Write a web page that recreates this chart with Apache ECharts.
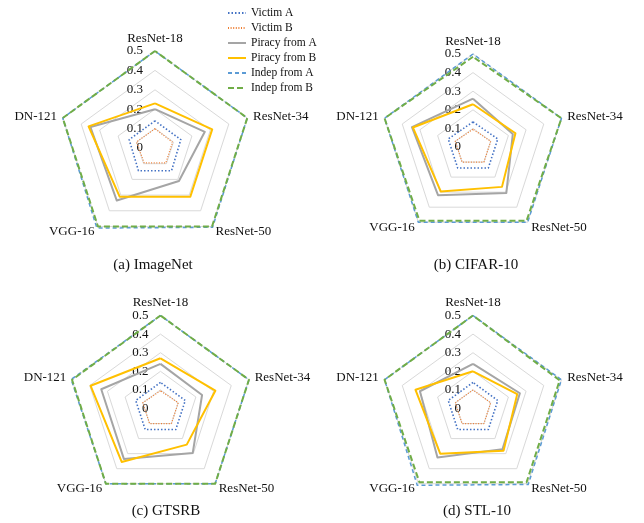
<!DOCTYPE html>
<html>
<head>
<meta charset="utf-8">
<script src="https://cdn.jsdelivr.net/npm/echarts@6/dist/echarts.min.js"></script>
<style>
    html, body { margin: 0; padding: 0; background: #fff; }
    #chart { width: 644px; height: 523px; }
</style>
</head>
<body>
<div id="chart"></div>
<script>
// 模型顺序（顺时针，从顶部开始）
const models = ['ResNet-18', 'ResNet-34', 'ResNet-50', 'VGG-16', 'DN-121'];
const datasets = ['(a) ImageNet', '(b) CIFAR-10', '(c) GTSRB', '(d) STL-10'];
const seriesNames = ['Victim A', 'Victim B', 'Piracy from A', 'Piracy from B', 'Indep from A', 'Indep from B'];
const tickLabels = ['0', '0.1', '0.2', '0.3', '0.4', '0.5'];

// 每行对应一个数据集，列顺序与 models 相同
const victimA = [
    [0.14, 0.14, 0.145, 0.145, 0.14],
    [0.135, 0.14, 0.14, 0.14, 0.14],
    [0.14, 0.14, 0.14, 0.14, 0.14],
    [0.14, 0.14, 0.14, 0.14, 0.14]
];
const victimB = [
    [0.1, 0.095, 0.095, 0.095, 0.1],
    [0.095, 0.1, 0.1, 0.1, 0.1],
    [0.095, 0.1, 0.1, 0.1, 0.1],
    [0.1, 0.1, 0.1, 0.1, 0.1]
];
const piracyA = [
    [0.2, 0.27, 0.21, 0.335, 0.35],
    [0.26, 0.225, 0.305, 0.32, 0.345],
    [0.24, 0.235, 0.295, 0.335, 0.335],
    [0.24, 0.265, 0.27, 0.325, 0.3]
];
const piracyB = [
    [0.23, 0.31, 0.31, 0.31, 0.36],
    [0.23, 0.24, 0.265, 0.295, 0.34],
    [0.27, 0.31, 0.24, 0.355, 0.395],
    [0.2, 0.25, 0.28, 0.3, 0.325]
];
const indepA = [
    [0.5, 0.5, 0.505, 0.51, 0.5],
    [0.5, 0.5, 0.5, 0.5, 0.5],
    [0.5, 0.5, 0.5, 0.5, 0.505],
    [0.5, 0.5, 0.505, 0.51, 0.5]
];
const indepB = [
    [0.5, 0.5, 0.5, 0.5, 0.5],
    [0.485, 0.5, 0.49, 0.49, 0.5],
    [0.5, 0.5, 0.5, 0.5, 0.5],
    [0.5, 0.49, 0.49, 0.49, 0.5]
];

const allValues = [victimA, victimB, piracyA, piracyB, indepA, indepB];

const lineStyles = [
    { color: '#4472C4', width: 1.6, type: [1.5, 2] },
    { color: '#ED7D31', width: 1.2, type: [1, 1.6] },
    { color: '#A5A5A5', width: 2, type: 'solid' },
    { color: '#FFC000', width: 2, type: 'solid' },
    { color: '#5B9BD5', width: 1.5, type: [4, 3] },
    { color: '#70AD47', width: 2, type: [6, 3] }
];

const layout = [
    { center: [155, 148], radius: 97, title: [148, 262] },
    { center: [473, 147], radius: 93, title: [471, 262] },
    { center: [160.5, 408.5], radius: 93, title: [161, 508] },
    { center: [473, 408.5], radius: 93, title: [472, 508] }
];

const font = 'Liberation Serif';

// ECharts 雷达图按逆时针排列，这里调整顺序以保持顺时针
const order = [0, 4, 3, 2, 1];

function buildOption() {
    const radars = layout.map(function(l) {
        return {
            center: l.center,
            radius: l.radius,
            startAngle: 90,
            splitNumber: 5,
            shape: 'polygon',
            nameGap: 6,
            axisName: { color: '#111', fontFamily: font, fontSize: 13 },
            indicator: order.map(function(k, i) {
                const ind = { name: models[k], min: 0, max: 0.5 };
                if (i === 0) {
                    ind.axisLabel = {
                        show: true,
                        color: '#111',
                        fontFamily: font,
                        fontSize: 13,
                        margin: 12,
                        formatter: function(v) { return tickLabels[Math.round(v * 10)]; }
                    };
                }
                return ind;
            }),
            axisLine: { show: false },
            axisTick: { show: false },
            axisLabel: { show: false },
            splitLine: { lineStyle: { color: '#D9D9D9', width: 1 } },
            splitArea: { show: false }
        };
    });

    // 图例用的空折线系列（只为显示线型图标）
    const series = seriesNames.map(function(name, s) {
        return {
            name: name,
            type: 'line',
            xAxisIndex: 0,
            yAxisIndex: 0,
            symbol: 'none',
            data: [],
            lineStyle: lineStyles[s],
            itemStyle: { color: lineStyles[s].color }
        };
    });

    layout.forEach(function(l, d) {
        series.push({
            type: 'radar',
            radarIndex: d,
            symbol: 'none',
            silent: true,
            data: seriesNames.map(function(name, s) {
                return {
                    name: name,
                    value: order.map(function(k) { return allValues[s][d][k]; }),
                    lineStyle: lineStyles[s],
                    itemStyle: { color: lineStyles[s].color }
                };
            })
        });
    });

    return {
        animation: false,
        backgroundColor: '#fff',
        title: layout.map(function(l, d) {
            return {
                text: datasets[d],
                left: l.title[0],
                top: l.title[1] - 9,
                textAlign: 'center',
                textStyle: { fontFamily: font, fontSize: 15, fontWeight: 'normal', color: '#111' }
            };
        }),
        legend: {
            data: seriesNames,
            orient: 'vertical',
            left: 227,
            top: 7,
            padding: 0,
            itemWidth: 18,
            itemHeight: 12,
            itemGap: 3,
            itemStyle: { opacity: 0 },
            textStyle: { fontFamily: font, fontSize: 11.5, color: '#111' }
        },
        grid: { left: -200, top: -200, width: 10, height: 10, show: false },
        xAxis: { show: false, type: 'value' },
        yAxis: { show: false, type: 'value' },
        radar: radars,
        series: series
    };
}

const chart = echarts.init(document.getElementById('chart'), null, { renderer: 'canvas' });
chart.setOption(buildOption());

window.addEventListener('resize', function() {
    chart.resize();
});
</script>
</body>
</html>
